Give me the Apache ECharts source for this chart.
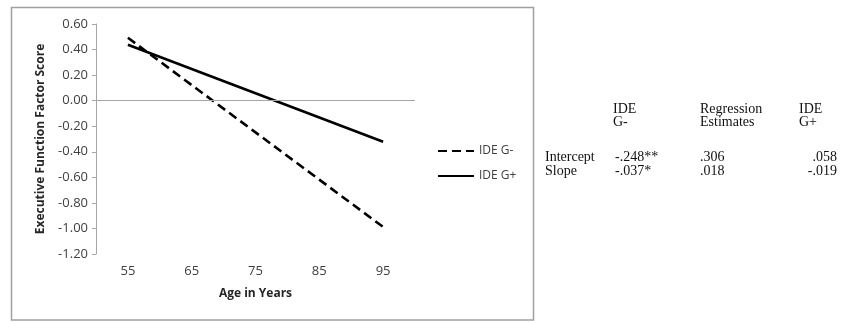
<!DOCTYPE html>
<html><head><meta charset="utf-8">
<script src="https://cdn.jsdelivr.net/npm/echarts@6/dist/echarts.min.js"></script>
<style>html,body{margin:0;padding:0;background:#fff}#c{width:842px;height:322px}</style>
</head><body><div id="c"></div>
<script>
const ages = ['55', '65', '75', '85', '95'];
const ideGMinus = [0.492, 0.122, -0.248, -0.618, -0.988];
const ideGPlus = [0.438, 0.248, 0.058, -0.132, -0.322];
const seriesNames = ['IDE G-', 'IDE G+'];
const tableHeaders = [['IDE', 'G-'], ['Regression', 'Estimates'], ['IDE', 'G+']];
const rowLabels = ['Intercept', 'Slope'];
const gMinusEst = ['-.248**', '-.037*'];
const regEst = ['.306', '.018'];
const gPlusEst = ['.058', '-.019'];

const chart = echarts.init(document.getElementById('c'), null, {renderer: 'canvas'});
const font = '"Open Sans", sans-serif';
const serif = '"Liberation Serif", "Times New Roman", serif';
const tStyle = {fontFamily: serif, fontSize: 14, fill: '#111'};
const graphics = [
  {type: 'rect', shape: {x: 11.5, y: 7.5, width: 522, height: 312.5},
   style: {fill: 'none', stroke: '#a0a0a0', lineWidth: 1.5}, silent: true}
];
const colX = [613, 700, 799];
tableHeaders.forEach((h, i) => {
  graphics.push({type: 'text', x: colX[i], y: 102, style: Object.assign({text: h[0]}, tStyle)});
  graphics.push({type: 'text', x: colX[i], y: 115, style: Object.assign({text: h[1]}, tStyle)});
});
rowLabels.forEach((r, i) => {
  const y = 150 + i * 14;
  graphics.push({type: 'text', x: 545, y: y, style: Object.assign({text: r}, tStyle)});
  graphics.push({type: 'text', x: 615, y: y, style: Object.assign({text: gMinusEst[i]}, tStyle)});
  graphics.push({type: 'text', x: 700, y: y, style: Object.assign({text: regEst[i]}, tStyle)});
  graphics.push({type: 'text', x: 837, y: y, style: Object.assign({text: gPlusEst[i], align: 'right'}, tStyle)});
});

chart.setOption({
  animation: false,
  backgroundColor: '#fff',
  grid: {left: 96, right: 427, top: 24, bottom: 68, containLabel: false},
  legend: {
    orient: 'vertical', left: 432, top: 140, itemWidth: 36, itemHeight: 14, itemGap: 13,
    data: seriesNames,
    itemStyle: {opacity: 0},
    textStyle: {fontFamily: font, fontSize: 12, color: '#404040', padding: [0, 0, 0, 0]}
  },
  xAxis: {
    type: 'category', data: ages, boundaryGap: true,
    axisLine: {show: false}, axisTick: {show: false},
    axisLabel: {fontFamily: font, fontSize: 13, color: '#404040', margin: 11},
    name: 'Age in Years', nameLocation: 'middle', nameGap: 34,
    nameTextStyle: {fontFamily: font, fontSize: 12, fontWeight: 'bold', color: '#262626'}
  },
  yAxis: {
    type: 'value', min: -1.2, max: 0.6, interval: 0.2,
    axisLine: {show: true, lineStyle: {color: '#a6a6a6', width: 1}},
    axisTick: {show: true, length: 4, lineStyle: {color: '#a6a6a6'}},
    splitLine: {show: false},
    axisLabel: {fontFamily: font, fontSize: 13, color: '#404040', margin: 8,
      formatter: v => v.toFixed(2)},
    name: 'Executive Function Factor Score', nameLocation: 'middle', nameGap: 49,
    nameTextStyle: {fontFamily: font, fontSize: 12, fontWeight: 'bold', color: '#262626'}
  },
  series: [
    {name: seriesNames[0], type: 'line', data: ideGMinus, symbol: 'none',
     lineStyle: {color: '#000', width: 2.6, type: [9, 5]}, itemStyle: {color: '#000'},
     markLine: {silent: true, symbol: 'none', label: {show: false},
       lineStyle: {color: '#a6a6a6', width: 1, type: 'solid'}, data: [{yAxis: 0}]},
     z: 3},
    {name: seriesNames[1], type: 'line', data: ideGPlus, symbol: 'none',
     lineStyle: {color: '#000', width: 2.6, type: 'solid'}, itemStyle: {color: '#000'}, z: 3}
  ],
  graphic: graphics
});
</script></body></html>
